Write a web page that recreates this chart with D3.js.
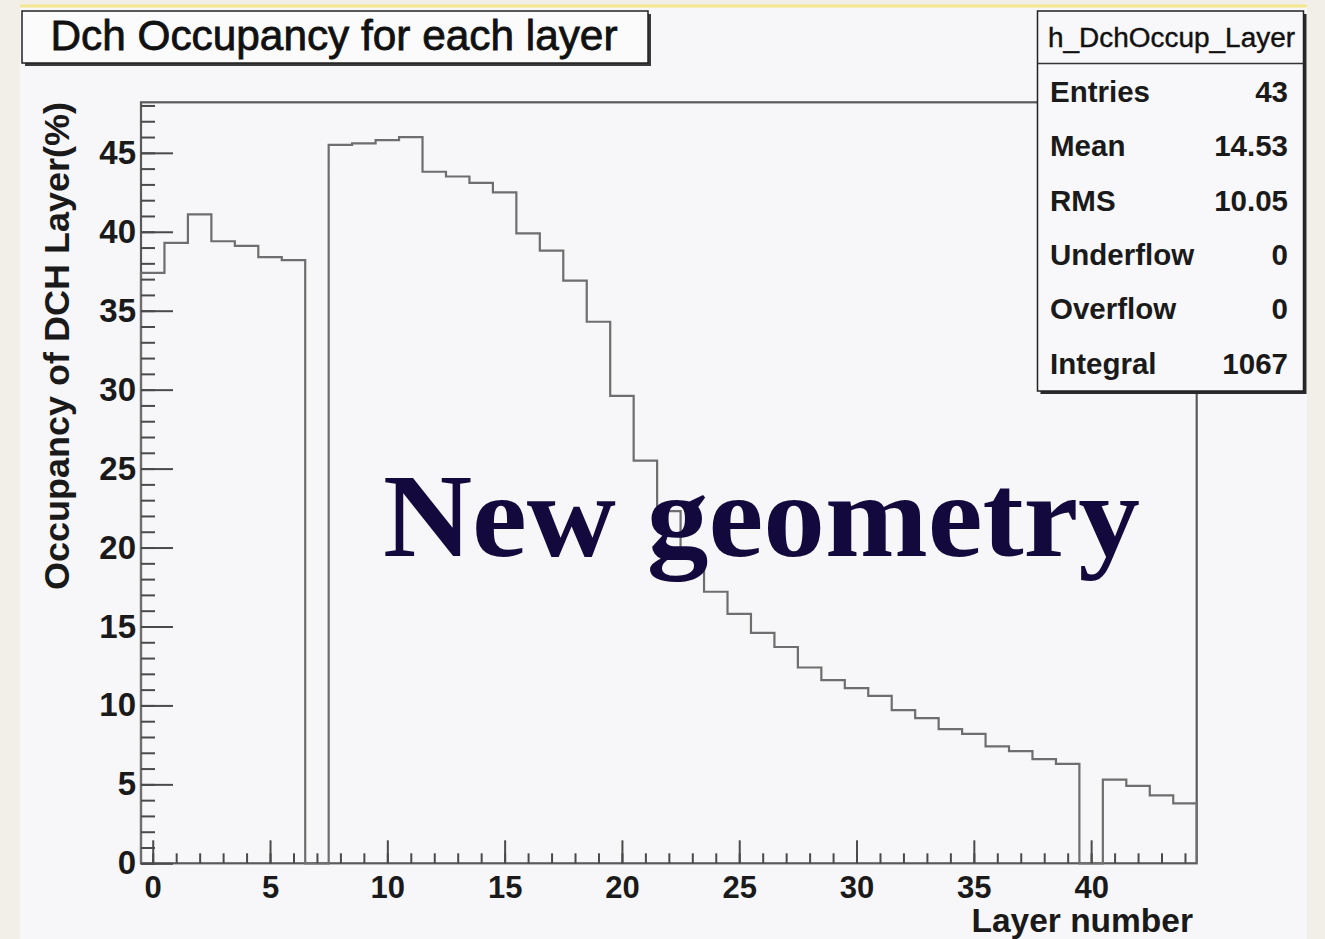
<!DOCTYPE html>
<html>
<head>
<meta charset="utf-8">
<script src="https://cdn.jsdelivr.net/npm/d3@7"></script>
<style>
  html, body { margin: 0; padding: 0; background: #f2efe8; }
  svg { display: block; }
</style>
</head>
<body>
<svg id="chart" width="1325" height="939"></svg>
<script>
// ---------------- data ----------------
const layers = [0,1,2,3,4,5,6,7,8,9,10,11,12,13,14,15,16,17,18,19,20,21,22,23,24,25,26,27,28,29,30,31,32,33,34,35,36,37,38,39,40,41,42,43,44];
const occupancy = [37.4, 39.3, 41.1, 39.4, 39.1, 38.4, 38.2, 0,
                   45.5, 45.6, 45.8, 46.0, 43.8, 43.5, 43.1, 42.5, 39.9, 38.8, 36.9, 34.3,
                   29.6, 25.5, 22.3, 19.4, 17.2, 15.8, 14.6, 13.7, 12.4, 11.6, 11.1, 10.6,
                   9.7, 9.2, 8.5, 8.2, 7.4, 7.1, 6.6, 6.3, 0, 5.3, 4.9, 4.3, 3.8];
const xMajorTicks = [0, 5, 10, 15, 20, 25, 30, 35, 40];
const yMajorTicks = [0, 5, 10, 15, 20, 25, 30, 35, 40, 45];
const statsName = "h_DchOccup_Layer";
const statsLabels = ["Entries", "Mean", "RMS", "Underflow", "Overflow", "Integral"];
const statsValues = ["43", "14.53", "10.05", "0", "0", "1067"];
const titleText = "Dch Occupancy for each layer";
const xTitle = "Layer number";
const yTitle = "Occupancy of DCH Layer(%)";
const overlayText = "New geometry";

// ---------------- layout ----------------
const svg = d3.select("#chart");
const frame = { left: 141, right: 1196.7, top: 102.3, bottom: 863.3 };
const x = d3.scaleLinear().domain([-0.5, 44.5]).range([frame.left, frame.right]);
const y = d3.scaleLinear().domain([0, 48.2]).range([frame.bottom, frame.top]);

const sans = "'Liberation Sans', Arial, Helvetica, sans-serif";

// background
svg.append("rect").attr("x", 0).attr("y", 0).attr("width", 1325).attr("height", 939).attr("fill", "#f2efe8");
svg.append("rect").attr("x", 20).attr("y", 6).attr("width", 1287).attr("height", 933).attr("fill", "#f7f6f9");
svg.append("line").attr("x1", 20).attr("x2", 1307).attr("y1", 6).attr("y2", 6)
  .attr("stroke", "#f4e88e").attr("stroke-width", 3);

// frame
svg.append("rect")
  .attr("x", frame.left).attr("y", frame.top)
  .attr("width", frame.right - frame.left).attr("height", frame.bottom - frame.top)
  .attr("fill", "none").attr("stroke", "#5a5a5a").attr("stroke-width", 2.2);

// histogram step outline
const pts = [[x(-0.5), y(0)]];
layers.forEach((l, i) => {
  pts.push([x(l - 0.5), y(occupancy[i])]);
  pts.push([x(l + 0.5), y(occupancy[i])]);
});
pts.push([x(44.5), y(0)]);
svg.append("path")
  .attr("d", d3.line()(pts))
  .attr("fill", "none").attr("stroke", "#6e6e6e").attr("stroke-width", 2.2)
  .attr("stroke-linejoin", "miter");

// axes
const gx = svg.append("g").attr("transform", `translate(0,${frame.bottom})`);
gx.call(d3.axisBottom(x).tickValues(layers).tickSizeInner(-10).tickSizeOuter(0).tickFormat(""));
gx.call(g => g.select(".domain").remove());
const gx2 = svg.append("g").attr("transform", `translate(0,${frame.bottom})`);
gx2.call(d3.axisBottom(x).tickValues(xMajorTicks).tickSizeInner(-23).tickSizeOuter(0).tickPadding(13).tickFormat(d3.format("d")));
gx2.select(".domain").remove();
gx2.selectAll("text").attr("font-family", sans).attr("font-weight", "bold").attr("font-size", 31).attr("fill", "#1a1a1a");

const yMinor = d3.range(0, 49, 1);
const gy = svg.append("g").attr("transform", `translate(${frame.left},0)`);
gy.call(d3.axisLeft(y).tickValues(yMinor).tickSizeInner(-14).tickSizeOuter(0).tickFormat(""));
gy.select(".domain").remove();
const gy2 = svg.append("g").attr("transform", `translate(${frame.left},0)`);
gy2.call(d3.axisLeft(y).tickValues(yMajorTicks).tickSizeInner(-32).tickSizeOuter(0).tickPadding(5).tickFormat(d3.format("d")));
gy2.select(".domain").remove();
gy2.selectAll("text").attr("font-family", sans).attr("font-weight", "bold").attr("font-size", 33).attr("fill", "#1a1a1a");
svg.selectAll("g .tick line").attr("stroke", "#4a4a4a").attr("stroke-width", 2);

// axis titles
svg.append("text").text(xTitle)
  .attr("x", 1193).attr("y", 932).attr("text-anchor", "end")
  .attr("font-family", sans).attr("font-weight", "bold").attr("font-size", 33.5).attr("fill", "#1a1a1a");
svg.append("text").text(yTitle)
  .attr("transform", "translate(69,102) rotate(-90)").attr("text-anchor", "end")
  .attr("textLength", 488).attr("lengthAdjust", "spacingAndGlyphs")
  .attr("font-family", sans).attr("font-weight", "bold").attr("font-size", 35).attr("fill", "#1a1a1a");

// title box with shadow
svg.append("rect").attr("x", 25).attr("y", 14).attr("width", 626).attr("height", 52).attr("fill", "#3a3a3a");
svg.append("rect").attr("x", 22).attr("y", 11).attr("width", 626).attr("height", 52)
  .attr("fill", "#fbfbfc").attr("stroke", "#222").attr("stroke-width", 1.5);
svg.append("text").text(titleText)
  .attr("x", 334).attr("y", 50).attr("text-anchor", "middle")
  .attr("textLength", 567).attr("lengthAdjust", "spacingAndGlyphs")
  .attr("font-family", sans).attr("font-size", 42).attr("fill", "#111")
  .attr("stroke", "#111").attr("stroke-width", 0.8);

// stats box with shadow
const sb = { x: 1037.5, y: 11, w: 266, h: 380 };
svg.append("rect").attr("x", sb.x + 3).attr("y", sb.y + 3).attr("width", sb.w).attr("height", sb.h).attr("fill", "#2a2a2a");
svg.append("rect").attr("x", sb.x).attr("y", sb.y).attr("width", sb.w).attr("height", sb.h)
  .attr("fill", "#f8f7fa").attr("stroke", "#222").attr("stroke-width", 1.5);
svg.append("line").attr("x1", sb.x).attr("x2", sb.x + sb.w).attr("y1", 63.5).attr("y2", 63.5)
  .attr("stroke", "#333").attr("stroke-width", 1.5);
svg.append("text").text(statsName)
  .attr("x", sb.x + sb.w / 2 + 1).attr("y", 47).attr("text-anchor", "middle")
  .attr("textLength", 247).attr("lengthAdjust", "spacingAndGlyphs")
  .attr("font-family", sans).attr("font-size", 27).attr("fill", "#111")
  .attr("stroke", "#111").attr("stroke-width", 0.4);
const rowY = d3.scaleLinear().domain([0, 5]).range([102, 373.5]);
statsLabels.forEach((lab, i) => {
  svg.append("text").text(lab)
    .attr("x", 1050).attr("y", rowY(i))
    .attr("font-family", sans).attr("font-weight", "bold").attr("font-size", 29.5).attr("fill", "#1a1a1a");
  svg.append("text").text(statsValues[i])
    .attr("x", 1288).attr("y", rowY(i)).attr("text-anchor", "end")
    .attr("font-family", sans).attr("font-weight", "bold").attr("font-size", 29.5).attr("fill", "#1a1a1a");
});

// overlay annotation
svg.append("text").text(overlayText)
  .attr("x", 383).attr("y", 556)
  .attr("textLength", 757).attr("lengthAdjust", "spacingAndGlyphs")
  .attr("font-family", "'Liberation Serif', 'Times New Roman', serif").attr("font-weight", "bold")
  .attr("font-size", 118).attr("fill", "#14093c");
</script>
</body>
</html>
